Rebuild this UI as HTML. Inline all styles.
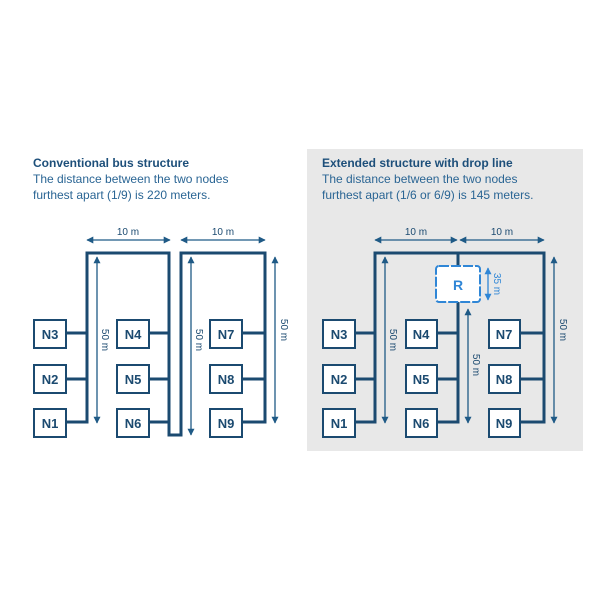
<!DOCTYPE html>
<html><head><meta charset="utf-8"><style>
html,body{margin:0;padding:0;background:#fff;}
svg{display:block;}
text{font-family:"Liberation Sans",sans-serif;}
</style></head><body>
<svg width="600" height="600" viewBox="0 0 600 600" xmlns="http://www.w3.org/2000/svg">
<defs>
<marker id="a" viewBox="0 0 10 10" refX="9" refY="5" markerWidth="7" markerHeight="7" orient="auto-start-reverse" markerUnits="userSpaceOnUse"><path d="M0,0L10,5L0,10z" fill="#1f5a86"/></marker>
<marker id="b" viewBox="0 0 10 10" refX="9" refY="5" markerWidth="7" markerHeight="7" orient="auto-start-reverse" markerUnits="userSpaceOnUse"><path d="M0,0L10,5L0,10z" fill="#2f86d6"/></marker>
</defs>
<rect x="307" y="149" width="276" height="302" fill="#e8e8e8"/>
<g font-size="12" fill="#2a6594">
<text x="33" y="167" font-weight="bold" fill="#1d4f7a">Conventional bus structure</text>
<text x="33" y="183">The distance between the two nodes</text>
<text x="33" y="199">furthest apart (1/9) is 220 meters.</text>
<text x="322" y="167" font-weight="bold" fill="#1d4f7a">Extended structure with drop line</text>
<text x="322" y="183">The distance between the two nodes</text>
<text x="322" y="199">furthest apart (1/6 or 6/9) is 145 meters.</text>
</g>
<!-- left buses -->
<g fill="none" stroke="#1b4a70" stroke-width="3">
<path d="M66,422H87V253H169V435H181V253H265V422H242"/>
<path d="M66,333H87M66,379H87M149,333H169M149,379H169M149,422H169M242,333H265M242,379H265"/>
<!-- right -->
<path d="M355,422H375V253H544V422H520M458,253V266M458,302V422H437"/>
<path d="M355,333H375M355,379H375M437,333H458M437,379H458M520,333H544M520,379H544"/>
</g>
<g fill="#fff" stroke="#1b4a70" stroke-width="2">
<rect x="34" y="320" width="32" height="28"/><rect x="34" y="365" width="32" height="28"/><rect x="34" y="409" width="32" height="28"/>
<rect x="117" y="320" width="32" height="28"/><rect x="117" y="365" width="32" height="28"/><rect x="117" y="409" width="32" height="28"/>
<rect x="210" y="320" width="32" height="28"/><rect x="210" y="365" width="32" height="28"/><rect x="210" y="409" width="32" height="28"/>
<rect x="323" y="320" width="32" height="28"/><rect x="323" y="365" width="32" height="28"/><rect x="323" y="409" width="32" height="28"/>
<rect x="406" y="320" width="31" height="28"/><rect x="406" y="365" width="31" height="28"/><rect x="406" y="409" width="31" height="28"/>
<rect x="489" y="320" width="31" height="28"/><rect x="489" y="365" width="31" height="28"/><rect x="489" y="409" width="31" height="28"/>
</g>
<g font-size="13" font-weight="bold" fill="#1b4a70" text-anchor="middle">
<text x="50" y="339">N3</text><text x="50" y="384">N2</text><text x="50" y="428">N1</text>
<text x="133" y="339">N4</text><text x="133" y="384">N5</text><text x="133" y="428">N6</text>
<text x="226" y="339">N7</text><text x="226" y="384">N8</text><text x="226" y="428">N9</text>
<text x="339" y="339">N3</text><text x="339" y="384">N2</text><text x="339" y="428">N1</text>
<text x="421" y="339">N4</text><text x="421" y="384">N5</text><text x="421" y="428">N6</text>
<text x="504" y="339">N7</text><text x="504" y="384">N8</text><text x="504" y="428">N9</text>
</g>
<!-- R box -->
<rect x="436" y="266" width="44" height="36" rx="3" fill="#fff" stroke="#2f86d6" stroke-width="2" stroke-dasharray="10 2"/>
<text x="458" y="290" font-size="14" font-weight="bold" fill="#2f86d6" text-anchor="middle">R</text>
<!-- dimension arrows -->
<g stroke="#1f5a86" stroke-width="1.3" marker-start="url(#a)" marker-end="url(#a)">
<line x1="87" y1="240" x2="170" y2="240"/><line x1="181" y1="240" x2="265" y2="240"/>
<line x1="97" y1="257" x2="97" y2="423"/><line x1="191" y1="257" x2="191" y2="435"/><line x1="275" y1="257" x2="275" y2="423"/>
<line x1="375" y1="240" x2="457" y2="240"/><line x1="460" y1="240" x2="544" y2="240"/>
<line x1="385" y1="257" x2="385" y2="423"/><line x1="468" y1="309" x2="468" y2="423"/><line x1="554" y1="257" x2="554" y2="423"/>
</g>
<line x1="488" y1="268" x2="488" y2="300" stroke="#2f86d6" stroke-width="1.3" marker-start="url(#b)" marker-end="url(#b)"/>
<g font-size="10" fill="#1b4a70" text-anchor="middle">
<text x="128" y="235">10 m</text><text x="223" y="235">10 m</text>
<text x="416" y="235">10 m</text><text x="502" y="235">10 m</text>
<text transform="translate(102,340) rotate(90)">50 m</text>
<text transform="translate(196,340) rotate(90)">50 m</text>
<text transform="translate(281,330) rotate(90)">50 m</text>
<text transform="translate(390,340) rotate(90)">50 m</text>
<text transform="translate(473,365) rotate(90)">50 m</text>
<text transform="translate(560,330) rotate(90)">50 m</text>
<text transform="translate(494,284) rotate(90)" fill="#2f86d6">35 m</text>
</g>
</svg>
</body></html>
